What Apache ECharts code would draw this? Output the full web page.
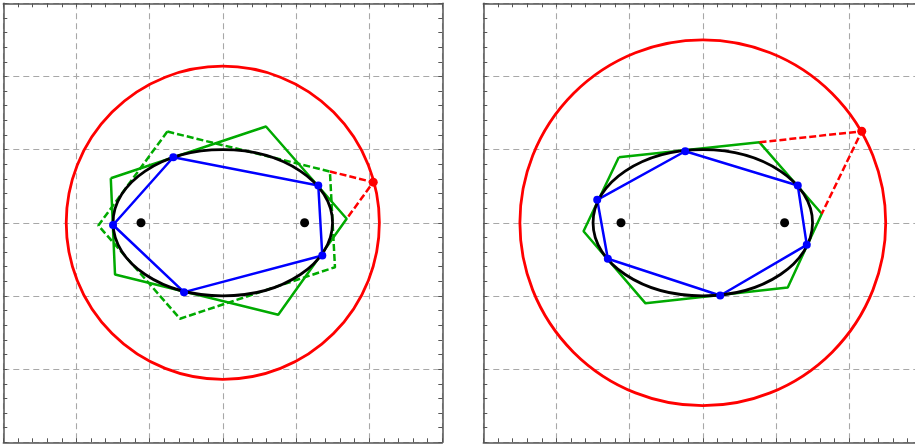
<!DOCTYPE html>
<html><head><meta charset="utf-8">
<script src="https://cdn.jsdelivr.net/npm/echarts@6/dist/echarts.min.js"></script>
<style>html,body{margin:0;padding:0;background:#fff;overflow:hidden}#c{width:930px;height:444px}</style>
</head><body><div id="c"></div><script>
// ---- data ----
const ellipseA = 1.5, ellipseB = 1.0;
const foci = [[-1.118, 0], [1.118, 0]];
const leftCircleR = 2.14;
const rightCircleR = 2.5;
const leftOuter = [[-1.531, 0.609], [0.590, 1.316], [1.693, 0.055], [0.758, -1.257], [-1.473, -0.706]];
const leftDashed = [[-0.758, 1.247], [1.464, 0.701], [1.533, -0.607], [-0.585, -1.311], [-1.701, -0.037]];
const leftInner = [[-0.676, 0.896], [1.305, 0.510], [1.360, -0.448], [-0.530, -0.948], [-1.500, -0.030]];
const leftPoint = [2.056, 0.555];
const leftTangents = [[1.464, 0.701], [2.056, 0.555], [1.693, 0.055]];
const rightOuter = [[-1.148, 0.896], [0.775, 1.100], [1.626, 0.123], [1.161, -0.885], [-0.783, -1.101], [-1.630, -0.115]];
const rightInner = [[-0.240, 0.978], [1.298, 0.510], [1.421, -0.301], [0.238, -0.993], [-1.298, -0.492], [-1.443, 0.314]];
const rightPoint = [2.172, 1.251];
const rightTangents = [[0.775, 1.100], [2.172, 1.251], [1.626, 0.123]];

const closed = a => a.concat([a[0]]);
const FR = '#555';
const GRIDLINE = {show: true, lineStyle: {color: '#a8a8a8', type: [6, 4], width: 1.1}};
function xAxes(gi) {
  const base = {gridIndex: gi, type: 'value', min: -3, max: 3, interval: 1,
    axisLabel: {show: false}, axisLine: {show: true, onZero: false, lineStyle: {color: FR, width: 1.5}},
    axisTick: {show: true, inside: true, length: 4, lineStyle: {color: FR}},
    minorTick: {show: true, splitNumber: 5, length: 4, lineStyle: {color: FR}}};
  return [
    Object.assign({}, base, {position: 'bottom', splitLine: GRIDLINE}),
    Object.assign({}, base, {position: 'top', splitLine: {show: false}})
  ];
}
function yAxes(gi) {
  const base = {gridIndex: gi, type: 'value', min: -3, max: 3, interval: 1,
    axisLabel: {show: false}, axisLine: {show: true, onZero: false, lineStyle: {color: FR, width: 1.5}},
    axisTick: {show: true, inside: true, length: 4, lineStyle: {color: FR}},
    minorTick: {show: true, splitNumber: 5, length: 4, lineStyle: {color: FR}}};
  return [
    Object.assign({}, base, {position: 'left', splitLine: GRIDLINE}),
    Object.assign({}, base, {position: 'right', splitLine: {show: false}})
  ];
}
function circleSeries(ax, r) {
  return {type: 'custom', xAxisIndex: ax, yAxisIndex: ax, data: [[0, 0, r]], silent: true, z: 2,
    renderItem: (p, api) => {
      const c = api.coord([api.value(0), api.value(1)]);
      const rr = api.size([api.value(2), 0])[0];
      return {type: 'circle', shape: {cx: c[0], cy: c[1], r: rr}, style: {fill: 'transparent', stroke: '#ff0000', lineWidth: 2.8}};
    }};
}
function ellipseSeries(ax) {
  return {type: 'custom', xAxisIndex: ax, yAxisIndex: ax, data: [[0, 0, ellipseA, ellipseB]], silent: true, z: 5,
    renderItem: (p, api) => {
      const c = api.coord([api.value(0), api.value(1)]);
      const s = api.size([api.value(2), api.value(3)]);
      return {type: 'ellipse', shape: {cx: c[0], cy: c[1], rx: s[0], ry: s[1]}, style: {fill: 'transparent', stroke: '#000', lineWidth: 2.8}};
    }};
}
function line(ax, data, color, dashed, z) {
  return {type: 'line', xAxisIndex: ax, yAxisIndex: ax, data: data, symbol: 'none', silent: true, z: z,
    lineStyle: {color: color, width: 2.5, type: dashed ? [7, 3] : 'solid'}, animation: false};
}
function pts(ax, data, color, size, z) {
  return {type: 'scatter', xAxisIndex: ax, yAxisIndex: ax, data: data, symbolSize: size, silent: true, z: z,
    itemStyle: {color: color, opacity: 1}};
}
// axis indices: grid0 -> x 0,1 / y 0,1 ; grid1 -> x 2,3 / y 2,3
const option = {
  animation: false,
  grid: [
    {left: 3.3, top: 3.3, width: 439, height: 439},
    {left: 483.3, top: 3.3, width: 439, height: 439}
  ],
  xAxis: xAxes(0).concat(xAxes(1)),
  yAxis: yAxes(0).concat(yAxes(1)),
  series: [
    circleSeries(0, leftCircleR),
    line(0, closed(leftOuter), '#00aa00', false, 3),
    line(0, closed(leftDashed), '#00aa00', true, 3),
    line(0, closed(leftInner), '#0000ff', false, 4),
    ellipseSeries(0),
    line(0, leftTangents, '#ff0000', true, 6),
    pts(0, leftInner, '#0000ff', 8, 7),
    pts(0, [leftPoint], '#ff0000', 9, 7),
    pts(0, foci, '#000', 9, 7),
    circleSeries(2, rightCircleR),
    line(2, closed(rightOuter), '#00aa00', false, 3),
    line(2, closed(rightInner), '#0000ff', false, 4),
    ellipseSeries(2),
    line(2, rightTangents, '#ff0000', true, 6),
    pts(2, rightInner, '#0000ff', 8, 7),
    pts(2, [rightPoint], '#ff0000', 9, 7),
    pts(2, foci, '#000', 9, 7)
  ]
};
echarts.init(document.getElementById('c'), null, {renderer: 'canvas'}).setOption(option);
</script></body></html>
